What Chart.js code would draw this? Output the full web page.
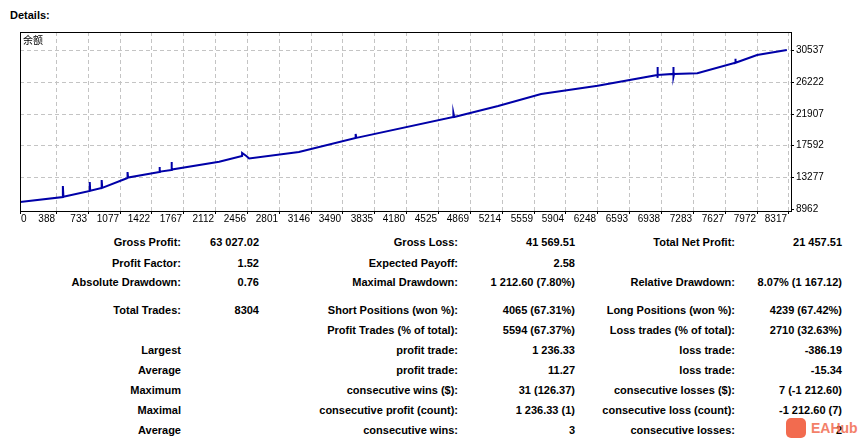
<!DOCTYPE html>
<html lang="en">
<head>
<meta charset="UTF-8">
<title>Details</title>
<script src="https://cdn.jsdelivr.net/npm/chart.js"></script>
<style>
  body { margin: 0; width: 858px; height: 447px; background: #fff; position: relative; overflow: hidden;
         font-family: "Liberation Sans", Arial, sans-serif; font-weight: bold; font-size: 11px; color: #000; }
  #title { position: absolute; left: 10px; top: 9px; font-size: 11px; }
  #wrap { position: absolute; left: 0; top: 0; width: 858px; height: 232px; }
  .t { position: absolute; white-space: nowrap; }
  .r { text-align: right; }
  #logo { position: absolute; left: 786px; top: 418px; width: 20px; height: 20px; background: #f26b4f; border-radius: 5px; }
  #logotxt { position: absolute; left: 811px; top: 420px; color: #f26b4f; font-size: 14px; font-weight: bold; opacity: 0.85; }
</style>
</head>
<body>
<div id="title">Details:</div>
<div id="wrap"><canvas id="c" width="858" height="232"></canvas></div>
<div id="table"></div>
<div id="logo"></div>
<div id="logotxt">EAHub</div>
<script>
// balance curve: [trade number, balance]
const balance = [
  [0,9874],[464,10554],[464,12052],[470,10600],[755,11370],[755,12596],[760,11400],
  [884,11780],[884,12867],[890,11800],[1164,13140],[1164,13957],[1170,13200],
  [1509,13957],[1509,14637],[1515,14000],[1639,14230],[1639,15318],[1645,14300],
  [2156,15360],[2404,16135],[2404,16543],[2450,16135],[2480,15800],[3019,16680],
  [3633,18585],[3633,19130],[3640,18600],[4691,21443],[4691,21988],[4700,21450],
  [5175,22940],[5640,24570],[6253,25700],[6900,27160],[6900,28250],[6900,26760],
  [6905,27160],[7073,27300],[7073,28250],[7073,26900],[7080,27300],[7331,27390],
  [7741,28820],[7741,29370],[7748,28820],[7978,29880],[8300,30560]
];
const xTicks = [0,388,733,1077,1422,1767,2112,2456,2801,3146,3490,3835,4180,4525,4869,5214,5559,5904,6248,6593,6938,7283,7627,7972,8317];
const yTicks = [8962,13277,17592,21907,26222,30537];
const seriesName = '余额';

const rows = [
  [243, 'Gross Profit:', '63 027.02', 'Gross Loss:', '41 569.51', 'Total Net Profit:', '21 457.51'],
  [264, 'Profit Factor:', '1.52', 'Expected Payoff:', '2.58', '', ''],
  [283, 'Absolute Drawdown:', '0.76', 'Maximal Drawdown:', '1 212.60 (7.80%)', 'Relative Drawdown:', '8.07% (1 167.12)'],
  [311, 'Total Trades:', '8304', 'Short Positions (won %):', '4065 (67.31%)', 'Long Positions (won %):', '4239 (67.42%)'],
  [331, '', '', 'Profit Trades (% of total):', '5594 (67.37%)', 'Loss trades (% of total):', '2710 (32.63%)'],
  [351, 'Largest', '', 'profit trade:', '1 236.33', 'loss trade:', '-386.19'],
  [371, 'Average', '', 'profit trade:', '11.27', 'loss trade:', '-15.34'],
  [391, 'Maximum', '', 'consecutive wins ($):', '31 (126.37)', 'consecutive losses ($):', '7 (-1 212.60)'],
  [411, 'Maximal', '', 'consecutive profit (count):', '1 236.33 (1)', 'consecutive loss (count):', '-1 212.60 (7)'],
  [431, 'Average', '', 'consecutive wins:', '3', 'consecutive losses:', '2']
];
const rightEdges = [181, 259, 458, 575, 735, 842];
const tbl = document.getElementById('table');
rows.forEach(r => {
  for (let i = 1; i < 7; i++) {
    if (!r[i]) continue;
    const d = document.createElement('div');
    d.className = 't r';
    d.style.top = (r[0] - 7) + 'px';
    d.style.right = (858 - rightEdges[i - 1]) + 'px';
    d.textContent = r[i];
    tbl.appendChild(d);
  }
});

const frame = {
  id: 'frame',
  beforeDatasetsDraw(chart) {
    const { ctx, chartArea: a, scales } = chart;
    ctx.save();
    ctx.strokeStyle = '#c4c4c4';
    ctx.lineWidth = 1;
    ctx.setLineDash([4, 3]);
    xTicks.slice(1).forEach(t => {
      const x = Math.round(scales.x.getPixelForValue(t)) + 0.5;
      ctx.beginPath(); ctx.moveTo(x, a.top); ctx.lineTo(x, a.bottom); ctx.stroke();
    });
    yTicks.slice(1).forEach(t => {
      const y = Math.round(scales.y.getPixelForValue(t)) + 0.5;
      ctx.beginPath(); ctx.moveTo(a.left, y); ctx.lineTo(a.right, y); ctx.stroke();
    });
    ctx.restore();
  },
  afterDraw(chart) {
    const { ctx, chartArea: a, scales } = chart;
    ctx.save();
    ctx.strokeStyle = '#000';
    ctx.lineWidth = 1;
    ctx.strokeRect(a.left + 0.5, a.top + 0.5, a.right - a.left, a.bottom - a.top);
    ctx.font = '10px "Liberation Sans", Arial, sans-serif';
    ctx.fillStyle = '#000';
    ctx.textBaseline = 'top';
    xTicks.forEach((t, i) => {
      const x = Math.round(scales.x.getPixelForValue(t));
      ctx.beginPath(); ctx.moveTo(x + 0.5, a.bottom); ctx.lineTo(x + 0.5, a.bottom + 3); ctx.stroke();
      ctx.textAlign = i === 0 ? 'left' : 'right';
      ctx.fillText(String(t), i === 0 ? x + 1 : x - 1, a.bottom + 3);
    });
    ctx.textBaseline = 'middle';
    ctx.textAlign = 'left';
    yTicks.forEach(t => {
      const y = Math.round(scales.y.getPixelForValue(t));
      ctx.beginPath(); ctx.moveTo(a.right, y + 0.5); ctx.lineTo(a.right + 3, y + 0.5); ctx.stroke();
      ctx.fillText(String(t), a.right + 5, y);
    });
    ctx.font = '10px "Noto Sans CJK SC", sans-serif';
    ctx.textBaseline = 'top';
    ctx.fillText(seriesName, a.left + 3, a.top + 3);
    ctx.restore();
  }
};

new Chart(document.getElementById('c'), {
  type: 'line',
  data: {
    datasets: [{
      label: seriesName,
      data: balance.map(p => ({ x: p[0], y: p[1] })),
      borderColor: '#0000a8',
      borderWidth: 2,
      pointRadius: 0,
      tension: 0
    }]
  },
  options: {
    responsive: false,
    animation: false,
    devicePixelRatio: 1,
    layout: { padding: { left: 20, top: 32, right: 67, bottom: 21 } },
    plugins: { legend: { display: false }, tooltip: { enabled: false } },
    scales: {
      x: { type: 'linear', min: 0, max: 8345, display: false },
      y: { min: 8650, max: 33000, display: false }
    }
  },
  plugins: [frame]
});
</script>
</body>
</html>
